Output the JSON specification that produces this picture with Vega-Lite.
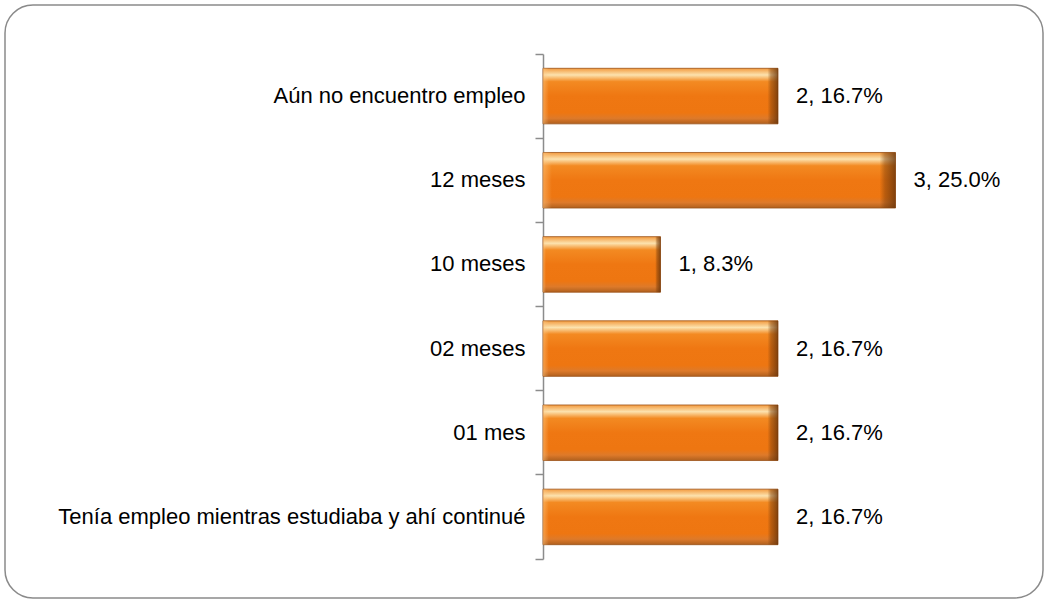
{
  "$schema": "https://vega.github.io/schema/vega-lite/v6.json",
  "width": 1038,
  "height": 593,
  "autosize": {"type": "none"},
  "padding": 5,
  "background": "white",
  "config": {"view": {"stroke": "#8a8a8a", "strokeWidth": 1.5, "cornerRadius": 28}},
  "data": {
    "values": [
      {"categoria": "Aún no encuentro empleo", "n": 2, "etiqueta": "2, 16.7%"},
      {"categoria": "12 meses", "n": 3, "etiqueta": "3, 25.0%"},
      {"categoria": "10 meses", "n": 1, "etiqueta": "1, 8.3%"},
      {"categoria": "02 meses", "n": 2, "etiqueta": "2, 16.7%"},
      {"categoria": "01 mes", "n": 2, "etiqueta": "2, 16.7%"},
      {"categoria": "Tenía empleo mientras estudiaba y ahí continué", "n": 2, "etiqueta": "2, 16.7%"}
    ]
  },
  "encoding": {
    "y": {
      "field": "categoria",
      "type": "nominal",
      "sort": null,
      "scale": {"range": [49, 554], "paddingInner": 0, "paddingOuter": 0},
      "axis": {
        "title": null,
        "offset": -538,
        "domainColor": "#8c8c8c",
        "domainWidth": 1.5,
        "tickColor": "#8c8c8c",
        "tickWidth": 1.5,
        "tickSize": 8,
        "bandPosition": 1,
        "tickExtra": true,
        "labelFont": "Liberation Sans",
        "labelFontSize": 22,
        "labelColor": "#000000",
        "labelPadding": 10,
        "labelLimit": 600
      }
    }
  },
  "layer": [
    {
      "mark": {
        "type": "bar",
        "height": {"band": 0.66},
        "color": {
          "gradient": "linear",
          "x1": 0, "y1": 0, "x2": 0, "y2": 1,
          "stops": [
            {"offset": 0, "color": "#F39A3E"},
            {"offset": 0.12, "color": "#FCE2AE"},
            {"offset": 0.24, "color": "#F38A22"},
            {"offset": 0.5, "color": "#EF7712"},
            {"offset": 0.8, "color": "#EE7611"},
            {"offset": 0.9, "color": "#DE7A2A"},
            {"offset": 1, "color": "#B0601E"}
          ]
        },
        "stroke": "#9a5016",
        "strokeWidth": 0.8
      },
      "encoding": {
        "x": {
          "field": "n",
          "type": "quantitative",
          "scale": {"domain": [0, 4], "range": [538, 1008], "nice": false},
          "axis": null
        }
      }
    },
    {
      "mark": {
        "type": "bar",
        "height": {"band": 0.66},
        "color": {
          "gradient": "linear",
          "x1": 0, "y1": 0, "x2": 1, "y2": 0,
          "stops": [
            {"offset": 0, "color": "rgba(255,200,130,0.5)"},
            {"offset": 0.025, "color": "rgba(255,200,130,0)"},
            {"offset": 0.955, "color": "rgba(120,60,10,0)"},
            {"offset": 0.97, "color": "rgba(120,60,10,0.45)"},
            {"offset": 1, "color": "rgba(100,50,10,0.8)"}
          ]
        }
      },
      "encoding": {
        "x": {"field": "n", "type": "quantitative"}
      }
    },
    {
      "mark": {
        "type": "text",
        "align": "left",
        "baseline": "middle",
        "dx": 18,
        "fontSize": 22,
        "font": "Liberation Sans",
        "color": "#000000"
      },
      "encoding": {
        "x": {"field": "n", "type": "quantitative"},
        "text": {"field": "etiqueta"}
      }
    }
  ]
}
